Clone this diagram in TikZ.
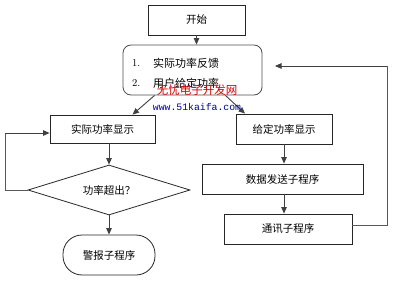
\documentclass[tikz,border=0pt]{standalone}
\usepackage{fontspec}
\newfontfamily\cjk{Noto Sans CJK SC}
\newfontfamily\wmono{Liberation Mono}
\usetikzlibrary{shapes.geometric,arrows.meta}
\begin{document}
\begin{tikzpicture}[x=1pt,y=-1pt,
  box/.style={draw=black!85,line width=0.8pt,minimum width=#1,minimum height=30pt,inner sep=0pt,font=\cjk\fontsize{10.5}{12}\selectfont},
  lbl/.style={inner sep=0pt,font=\cjk\fontsize{11}{12}\selectfont},
  arr/.style={draw=black!75,line width=0.9pt,-{Triangle[length=6.5pt,width=5.5pt]}},
  ln/.style={draw=black!65,line width=0.9pt}]
\useasboundingbox (0,0) rectangle (398,283);
\node[box=97pt] (start) at (196.5,20) {开始};
\node[draw=black!70,line width=0.8pt,rounded corners=8pt,minimum width=139pt,minimum height=50pt,inner sep=0pt] (fb) at (192.5,70) {};
\node[lbl,anchor=west,font=\fontsize{10.5}{12}\selectfont] (n1) at (132,63) {1.};
\node[lbl,anchor=west] (t1) at (153,63) {实际功率反馈};
\node[lbl,anchor=west,font=\fontsize{10.5}{12}\selectfont] (n2) at (132,83) {2.};
\node[lbl,anchor=west] (t2) at (153,83) {用户给定功率};
\node[box=105pt,minimum height=28pt] (act) at (102.5,129) {实际功率显示};
\node[draw=black!85,line width=0.8pt,diamond,aspect=3.24,minimum width=162pt,minimum height=50pt,inner sep=0pt,font=\cjk\fontsize{10.5}{12}\selectfont] (dia) at (109,190) {功率超出？};
\node[draw=black!85,line width=0.8pt,rounded corners=19pt,minimum width=92pt,minimum height=40pt,inner sep=0pt,font=\cjk\fontsize{10.5}{12}\selectfont] (alarm) at (109,255) {警报子程序};
\node[box=96pt] (given) at (284,129) {给定功率显示};
\node[box=161pt] (send) at (282.5,179) {数据发送子程序};
\node[box=128pt] (comm) at (288,229) {通讯子程序};
\coordinate (ret) at (275,66);
\coordinate (rx) at (387,0);
\coordinate (lx) at (5,0);
\draw[arr] (start.south) -- (fb.north -| start.south);
\draw[arr] ([xshift=32pt]fb.south west) -- ([xshift=30pt]act.north);
\draw[arr] ([xshift=-37pt]fb.south east) -- ([xshift=-39pt]given.north);
\draw[arr] (act.south -| dia.north) -- (dia.north);
\draw[arr] (dia.south) -- (alarm.north);
\draw[arr] (given.south) -- (given.south |- send.north);
\draw[arr] (given.south |- send.south) -- (given.south |- comm.north);
\draw[ln] (dia.west) -- (dia.west -| lx) -- ([yshift=-4pt]lx |- act.west);
\draw[arr] ([yshift=-4pt]lx |- act.west) -- ([yshift=-4pt]act.west);
\draw[ln] ([yshift=4pt]comm.east) -- ([yshift=4pt]comm.east -| rx) -- (rx |- ret);
\draw[arr] (rx |- ret) -- (ret);
\node[inner sep=0pt,text=red!85!black,font=\cjk\fontsize{11.5}{13}\selectfont] (wm1) at (197,90) {无忧电子开发网};
\node[inner sep=0pt,text=blue!60!black,font=\wmono\fontsize{9.8}{11}\selectfont] (wm2) at (197,107) {www.51kaifa.com};
\end{tikzpicture}
\end{document}
